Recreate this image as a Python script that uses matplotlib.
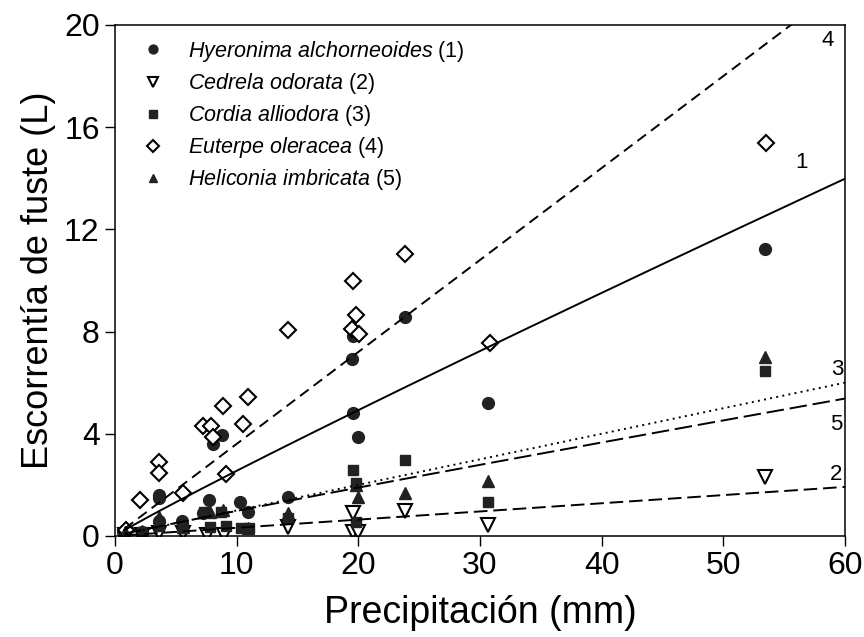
import numpy as np
import matplotlib
matplotlib.use("Agg")
import matplotlib.pyplot as plt

plt.rcParams['font.family'] = ['Liberation Sans', 'DejaVu Sans']
plt.rcParams['mathtext.fontset'] = 'custom'
plt.rcParams['mathtext.it'] = 'Liberation Sans:italic'
plt.rcParams['mathtext.rm'] = 'Liberation Sans'

# data
hyer_x = [0.7, 2.2, 3.6, 3.6, 3.6, 5.5, 7.2, 7.7, 8.1, 8.8, 10.3, 10.9, 14.2, 19.5, 19.6, 19.6, 20.0, 23.8, 30.7, 53.4]
hyer_y = [0.17, 0.17, 1.5, 1.6, 0.6, 0.6, 0.9, 1.42, 3.6, 3.95, 1.34, 0.95, 1.54, 6.93, 4.83, 7.84, 3.86, 8.58, 5.22, 11.25]

cedr_x = [0.8, 2.2, 3.6, 5.6, 7.6, 9.0, 14.2, 19.6, 19.6, 20.0, 23.8, 30.7, 53.4]
cedr_y = [0.05, 0.05, 0.1, 0.1, 0.05, 0.05, 0.36, 0.89, 0.17, 0.17, 0.98, 0.43, 2.3]

cord_x = [0.8, 2.2, 3.6, 5.6, 7.3, 7.8, 8.7, 9.1, 10.4, 11.0, 14.2, 19.6, 19.8, 19.8, 23.8, 30.7, 53.4]
cord_y = [0.1, 0.15, 0.4, 0.3, 0.95, 0.36, 0.95, 0.4, 0.3, 0.3, 0.7, 2.58, 2.06, 0.56, 2.97, 1.34, 6.45]

eute_x = [0.9, 2.1, 3.6, 3.6, 5.6, 7.2, 7.9, 8.1, 8.9, 9.1, 10.5, 10.9, 14.2, 19.6, 19.8, 19.5, 20.1, 23.8, 30.8, 53.5]
eute_y = [0.25, 1.4, 2.9, 2.45, 1.7, 4.3, 4.3, 3.86, 5.1, 2.43, 4.38, 5.45, 8.08, 9.98, 8.65, 8.1, 7.9, 11.04, 7.54, 15.4]

heli_x = [0.8, 2.2, 3.6, 5.6, 7.8, 8.9, 10.9, 14.2, 19.8, 20.0, 23.8, 30.7, 53.4]
heli_y = [0.15, 0.2, 0.75, 0.35, 0.95, 1.0, 0.3, 0.9, 2.0, 1.54, 1.7, 2.17, 7.0]

# fitted curves y = a * x^b
fit_a = [0.286, 0.032, 0.10, 0.36, 0.11]
fit_b = [0.95, 1.0, 1.0, 1.0, 0.95]
fit_names = ["1", "2", "3", "4", "5"]

names = ["Hyeronima\\ alchorneoides", "Cedrela\\ odorata", "Cordia\\ alliodora",
         "Euterpe\\ oleracea", "Heliconia\\ imbricata"]

dark = "#222222"

fig = plt.figure(figsize=(8.64, 6.37), dpi=100)
ax = fig.add_axes([0.133, 0.1586, 0.845, 0.8022])

ax.plot(hyer_x, hyer_y, 'o', ms=8.5, mfc=dark, mec=dark, ls='none',
        label=r"$\it{" + names[0] + "}$ (1)")
ax.plot(cedr_x, cedr_y, 'v', ms=9.5, mfc='white', mec='black', mew=1.5, ls='none',
        label=r"$\it{" + names[1] + "}$ (2)")
ax.plot(cord_x, cord_y, 's', ms=7.5, mfc=dark, mec=dark, ls='none',
        label=r"$\it{" + names[2] + "}$ (3)")
ax.plot(eute_x, eute_y, 'D', ms=8.5, mfc='white', mec='black', mew=1.5, ls='none',
        label=r"$\it{" + names[3] + "}$ (4)")
ax.plot(heli_x, heli_y, '^', ms=8.5, mfc=dark, mec=dark, ls='none',
        label=r"$\it{" + names[4] + "}$ (5)")

styles = [(None, None), (0, (7, 3)), (0, (1, 2.2)), (0, (5.5, 3.2)), (0, (9, 3))]
xx = np.linspace(0.8, 60, 300)
for a, b, st in zip(fit_a, fit_b, styles):
    yy = a * xx ** b
    if st[0] is None:
        ax.plot(xx, yy, color='black', lw=1.4)
    else:
        ax.plot(xx, yy, color='black', lw=1.4, linestyle=st)

# curve numbers
lab_x = [56.4, 59.3, 59.4, 58.6, 59.3]
lab_y = [14.6, 2.4, 6.5, 19.4, 4.35]
for n, lx, ly in zip(fit_names, lab_x, lab_y):
    ax.text(lx, ly, n, fontsize=16, ha='center', va='center')

ax.set_xlim(0, 60)
ax.set_ylim(0, 20)
ax.set_xticks([0, 10, 20, 30, 40, 50, 60])
ax.set_yticks([0, 4, 8, 12, 16, 20])
ax.tick_params(direction='out', length=7, width=1, labelsize=23, pad=4)
for s in ax.spines.values():
    s.set_linewidth(1.1)

ax.set_xlabel("Precipitación (mm)", fontsize=27, labelpad=10)
ax.set_ylabel("Escorrentía de fuste (L)", fontsize=26, labelpad=6)

leg = ax.legend(loc='upper left', frameon=False, fontsize=15.5, markerscale=0.75,
                handlelength=1.6, handletextpad=0.8, labelspacing=0.33,
                borderaxespad=0.25, bbox_to_anchor=(0.01, 1.0))

fig.savefig("out.png", dpi=100)
